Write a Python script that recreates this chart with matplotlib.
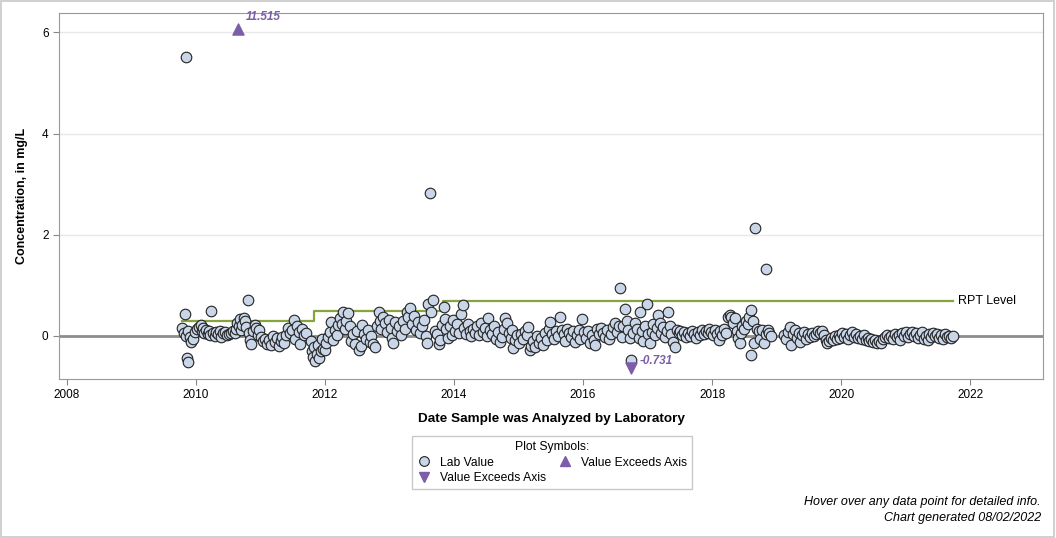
import matplotlib
matplotlib.use("Agg")
import matplotlib.pyplot as plt
from matplotlib.lines import Line2D
from matplotlib.patches import Rectangle

plt.rcParams['font.family'] = ['Liberation Sans', 'DejaVu Sans']

# decimal year the sample was analyzed, and lab value (mg/L)
sample_year = [
    2009.78, 2009.81, 2009.83, 2009.84, 2009.85, 2009.86, 2009.87, 2009.88, 2009.90, 2009.93, 2009.96, 2009.99,
    2010.02, 2010.05, 2010.07, 2010.09, 2010.11, 2010.13, 2010.15, 2010.18, 2010.20, 2010.22, 2010.24, 2010.26,
    2010.29, 2010.31, 2010.34, 2010.37, 2010.39, 2010.42, 2010.45, 2010.48, 2010.51, 2010.54,
    2010.57, 2010.60, 2010.62, 2010.64, 2010.66, 2010.68, 2010.70, 2010.72, 2010.74, 2010.76, 2010.78, 2010.80,
    2010.82, 2010.84, 2010.86, 2010.88,
    2010.91, 2010.93, 2010.96, 2010.98, 2011.01, 2011.04, 2011.07, 2011.10, 2011.13, 2011.16, 2011.19, 2011.22,
    2011.25, 2011.28, 2011.31, 2011.34, 2011.37, 2011.40,
    2011.43, 2011.46, 2011.49, 2011.52, 2011.54, 2011.56, 2011.59, 2011.61, 2011.64, 2011.67, 2011.70,
    2011.78, 2011.80, 2011.81, 2011.83, 2011.85, 2011.87, 2011.89, 2011.91, 2011.93, 2011.95, 2011.97, 2012.00,
    2012.02,
    2012.05, 2012.08, 2012.10, 2012.12, 2012.15, 2012.18, 2012.20, 2012.23, 2012.26, 2012.28, 2012.31, 2012.33,
    2012.36, 2012.39, 2012.41, 2012.44,
    2012.47, 2012.49, 2012.52, 2012.55, 2012.57, 2012.60, 2012.63, 2012.66, 2012.69, 2012.72, 2012.75, 2012.77,
    2012.80,
    2012.83, 2012.85, 2012.87, 2012.90, 2012.93, 2012.96, 2012.99, 2013.02, 2013.04, 2013.06, 2013.09, 2013.12,
    2013.15, 2013.18,
    2013.21, 2013.24, 2013.27, 2013.29, 2013.32, 2013.35, 2013.38, 2013.41, 2013.44, 2013.47, 2013.50, 2013.53,
    2013.56, 2013.58, 2013.60, 2013.63, 2013.65, 2013.68, 2013.70, 2013.73, 2013.76, 2013.78, 2013.81, 2013.84,
    2013.86, 2013.88, 2013.91, 2013.94, 2013.97, 2013.99,
    2014.02, 2014.05, 2014.08, 2014.11, 2014.14, 2014.16, 2014.18, 2014.21, 2014.24, 2014.27, 2014.30, 2014.33,
    2014.36, 2014.39, 2014.42,
    2014.45, 2014.48, 2014.51, 2014.53, 2014.56, 2014.59, 2014.62, 2014.65, 2014.68, 2014.71, 2014.74, 2014.77,
    2014.79, 2014.82, 2014.85, 2014.88, 2014.90, 2014.92, 2014.95, 2014.98,
    2015.01, 2015.04, 2015.07, 2015.10, 2015.13, 2015.15, 2015.18, 2015.20, 2015.23, 2015.26, 2015.29, 2015.32,
    2015.35, 2015.38, 2015.41, 2015.44, 2015.47, 2015.49,
    2015.52, 2015.55, 2015.58, 2015.61, 2015.64, 2015.67, 2015.70, 2015.72, 2015.75, 2015.78, 2015.81, 2015.84,
    2015.87, 2015.90, 2015.93, 2015.96, 2015.99, 2016.02,
    2016.05, 2016.08, 2016.11, 2016.14, 2016.17, 2016.19, 2016.22, 2016.25, 2016.28, 2016.31, 2016.34, 2016.37,
    2016.40, 2016.43, 2016.46, 2016.49, 2016.52, 2016.55, 2016.57, 2016.60, 2016.62, 2016.65, 2016.68, 2016.70,
    2016.73, 2016.75,
    2016.78, 2016.81, 2016.84, 2016.86, 2016.88, 2016.91, 2016.93, 2016.96, 2016.99, 2017.01, 2017.04, 2017.07,
    2017.09, 2017.12, 2017.14, 2017.16, 2017.19, 2017.21, 2017.24, 2017.27, 2017.30, 2017.32, 2017.35, 2017.37,
    2017.40, 2017.42, 2017.45,
    2017.48, 2017.51, 2017.54, 2017.57, 2017.60, 2017.63, 2017.66, 2017.69, 2017.72, 2017.75, 2017.78, 2017.81,
    2017.84, 2017.87, 2017.90, 2017.93, 2017.96, 2017.99, 2018.02, 2018.05, 2018.08, 2018.11, 2018.13,
    2018.16, 2018.19, 2018.22, 2018.25, 2018.28, 2018.30, 2018.33, 2018.35, 2018.38, 2018.40, 2018.43, 2018.45,
    2018.47, 2018.50, 2018.52, 2018.55, 2018.58, 2018.60, 2018.61, 2018.63, 2018.65, 2018.67, 2018.69, 2018.72,
    2018.75, 2018.78, 2018.80, 2018.83, 2018.84, 2018.86, 2018.89, 2018.91,
    2019.12, 2019.15, 2019.18, 2019.21, 2019.23, 2019.25, 2019.28, 2019.31, 2019.34, 2019.37, 2019.40, 2019.43,
    2019.46, 2019.49, 2019.52, 2019.55, 2019.58, 2019.61, 2019.64, 2019.67, 2019.70, 2019.73, 2019.76, 2019.78,
    2019.81, 2019.84, 2019.87, 2019.90, 2019.93, 2019.96, 2019.99,
    2020.02, 2020.05, 2020.08, 2020.11, 2020.14, 2020.17, 2020.20, 2020.23, 2020.26, 2020.29, 2020.32, 2020.35,
    2020.38, 2020.41, 2020.44, 2020.47, 2020.50, 2020.53, 2020.56, 2020.59, 2020.62, 2020.65, 2020.68, 2020.71,
    2020.74, 2020.77, 2020.80, 2020.83, 2020.86, 2020.89, 2020.92, 2020.95, 2020.98,
    2021.01, 2021.04, 2021.07, 2021.10, 2021.13, 2021.16, 2021.19, 2021.22, 2021.25, 2021.28, 2021.31, 2021.34,
    2021.37, 2021.40, 2021.43, 2021.46, 2021.49, 2021.52, 2021.55, 2021.58, 2021.61, 2021.64, 2021.67, 2021.70,
    2021.74,
]

lab_value = [
    0.15, 0.05, 0.43, 5.51, 0.00, -0.44, 0.09, -0.51, -0.01, -0.11, -0.06, 0.08,
    0.14, 0.18, 0.22, 0.10, 0.16, 0.06, 0.12, 0.04, 0.09, 0.02, 0.50, 0.06,
    0.00, 0.08, 0.03, 0.10, -0.02, 0.05, 0.08, 0.02, 0.04, 0.06,
    0.10, 0.05, 0.14, 0.26, 0.20, 0.33, 0.12, 0.22, 0.36, 0.30, 0.18, 0.71,
    0.05, -0.08, -0.16, 0.10,
    0.22, 0.16, 0.02, 0.12, -0.02, -0.10, -0.06, -0.16, -0.08, -0.18, 0.00, -0.12,
    -0.04, -0.20, -0.10, -0.02, -0.14, 0.02,
    0.16, 0.06, 0.12, 0.32, -0.06, 0.20, 0.08, -0.16, 0.14, 0.02, 0.06,
    -0.10, -0.30, -0.42, -0.22, -0.50, -0.36, -0.18, -0.44, -0.30, -0.06, -0.26, -0.28,
    -0.14,
    -0.02, 0.08, 0.28, -0.08, 0.12, 0.02, 0.22, 0.36, 0.24, 0.48, 0.14, 0.30,
    0.45, 0.20, -0.10, 0.04,
    -0.16, 0.10, -0.28, -0.20, 0.22, 0.04, -0.06, 0.12, -0.12, 0.00, -0.16, -0.21,
    0.20,
    0.48, 0.30, 0.14, 0.38, 0.26, 0.08, 0.32, 0.16, -0.04, -0.14, 0.28, 0.10,
    0.20, 0.02,
    0.30, 0.14, 0.48, 0.38, 0.55, 0.24, 0.40, 0.12, 0.28, 0.06, 0.20, 0.32,
    0.00, -0.14, 0.64, 2.83, 0.48, 0.71, 0.10, 0.04, -0.16, -0.08, 0.22, 0.58,
    0.34, 0.14, -0.04, 0.20, 0.02, 0.32,
    0.10, 0.24, 0.06, 0.44, 0.61, 0.16, 0.04, 0.24, 0.10, 0.00, 0.14, 0.06,
    0.20, 0.02, 0.26,
    0.08, 0.16, 0.00, 0.36, 0.12, 0.04, 0.20, -0.06, 0.08, -0.11, -0.02, 0.14,
    0.36, 0.26, 0.06, -0.04, 0.12, -0.24, -0.08, 0.02,
    -0.14, 0.04, -0.06, 0.10, 0.02, 0.18, -0.28, -0.20, -0.10, -0.22, 0.00, -0.14,
    -0.04, -0.18, 0.06, -0.08, 0.14, 0.28,
    0.04, -0.06, 0.10, 0.00, 0.38, 0.12, 0.04, -0.10, 0.14, 0.06, -0.02, 0.10,
    -0.12, 0.02, 0.12, -0.06, 0.33, 0.08,
    -0.04, 0.10, -0.14, 0.02, -0.08, -0.18, 0.14, 0.04, 0.16, 0.06, -0.02, 0.12,
    -0.06, 0.04, 0.18, 0.26, 0.08, 0.20, 0.95, -0.02, 0.20, 0.53, 0.30, 0.12,
    -0.04, -0.47,
    0.06, 0.26, 0.14, -0.04, 0.48, 0.10, -0.10, 0.20, 0.63, 0.04, -0.14, 0.08,
    0.24, 0.02, 0.16, 0.41, 0.26, 0.06, 0.18, -0.02, 0.10, 0.48, 0.20, 0.04,
    -0.11, -0.22, 0.12,
    0.06, 0.10, 0.02, 0.08, -0.02, 0.06, 0.00, 0.10, 0.04, -0.04, 0.08, 0.02,
    0.12, 0.04, 0.10, 0.06, 0.14, 0.08, 0.02, 0.12, 0.04, -0.08, 0.10,
    0.02, 0.14, 0.06, 0.38, 0.41, 0.38, 0.26, 0.36, 0.10, -0.04, -0.14, 0.06,
    0.20, 0.14, 0.30, 0.24, 0.38, -0.38, 0.51, 0.30, -0.14, 2.13, 0.14, 0.10,
    -0.06, 0.12, -0.14, 0.04, 1.33, 0.12, 0.06, 0.00,
    0.02, -0.06, 0.08, 0.18, -0.18, 0.04, 0.12, -0.04, 0.06, -0.12, 0.02, 0.08,
    -0.06, 0.04, -0.02, 0.06, 0.00, 0.04, 0.10, 0.06, 0.09, 0.02, -0.08, -0.14,
    -0.10, -0.04, -0.08, 0.00, -0.06, 0.02, -0.04,
    0.06, -0.02, 0.04, -0.06, 0.02, 0.08, -0.02, 0.04, -0.04, 0.00, -0.06, 0.02,
    -0.08, -0.04, -0.10, -0.06, -0.12, -0.08, -0.14, -0.10, -0.14, -0.06, -0.02, 0.02,
    -0.04, 0.00, -0.06, 0.04, -0.02, 0.02, -0.08, 0.06, 0.00,
    0.08, -0.02, 0.04, 0.08, 0.00, 0.06, -0.04, 0.02, 0.08, -0.06, 0.00, -0.08,
    0.04, -0.02, 0.06, 0.00, 0.04, -0.04, 0.02, -0.06, 0.04, -0.02, 0.00, -0.04,
    0.00,
]

# values outside the axis range, drawn as triangles at the axis edge
exceed_year = [2010.65, 2016.75]
exceed_value = [11.515, -0.731]

# reporting level steps
rpt_year = [2009.78, 2011.83, 2013.83, 2021.74]
rpt_level = [0.3, 0.5, 0.7, 0.7]

y_min, y_max = -0.85, 6.39
cap_hi, cap_lo = 6.06, -0.63

purple = '#7b5ea7'
fill = '#c9d6e8'

fig = plt.figure(figsize=(10.56, 5.38), dpi=100)
fig.patches.append(Rectangle((0.0005, 0.001), 0.998, 0.997, transform=fig.transFigure,
                             fill=False, edgecolor='#c8c8c8', linewidth=1.2))
ax = fig.add_axes([59 / 1056, 1 - 379 / 538, (1043 - 59) / 1056, (379 - 12.7) / 538])

for gy in [2, 4, 6]:
    ax.axhline(gy, color='#e8e8e8', linewidth=1, zorder=0)
ax.axhline(0, color='#8c8c8c', linewidth=2, zorder=1)

ax.step(rpt_year, rpt_level, where='post', color='#86a33e', linewidth=1.6, zorder=2)
ax.text(rpt_year[-1] + 0.07, rpt_level[-1], 'RPT Level', fontsize=9, va='center', ha='left')

ax.scatter(sample_year, lab_value, s=58, facecolor=fill, edgecolor='#222222',
           linewidth=0.8, zorder=3)

# exceeding values
for yr, val in zip(exceed_year, exceed_value):
    if val > y_max:
        ax.scatter([yr], [cap_hi], marker='^', s=64, color=purple, zorder=4)
        ax.annotate(f'{val:.3f}', (yr, cap_hi), xytext=(6, 7), textcoords='offset points',
                    color=purple, fontsize=8.5, fontweight='bold', fontstyle='italic')
    else:
        ax.scatter([yr], [cap_lo], marker='v', s=64, color=purple, zorder=4)
        ax.annotate(f'{val:.3f}', (yr, cap_lo), xytext=(6, 3), textcoords='offset points',
                    color=purple, fontsize=8.5, fontweight='bold', fontstyle='italic')

ax.set_xlim(2007.876, 2023.13)
ax.set_ylim(y_min, y_max)
ax.set_xticks(range(2008, 2023, 2))
ax.set_yticks([0, 2, 4, 6])
ax.tick_params(labelsize=8.5, length=4, color='#888888')
for side in ax.spines.values():
    side.set_color('#999999')
ax.set_xlabel('Date Sample was Analyzed by Laboratory', fontsize=9.7, fontweight='bold', labelpad=8)
ax.set_ylabel('Concentration, in mg/L', fontsize=9, fontweight='bold', labelpad=10)

handles = [
    Line2D([0], [0], marker='o', linestyle='none', markersize=7, markerfacecolor=fill,
           markeredgecolor='#222222', markeredgewidth=0.8, label='Lab Value'),
    Line2D([0], [0], marker='v', linestyle='none', markersize=7, color=purple,
           label='Value Exceeds Axis'),
    Line2D([0], [0], marker='^', linestyle='none', markersize=7, color=purple,
           label='Value Exceeds Axis'),
]
leg = fig.legend(handles=handles, title='Plot Symbols:', ncol=2, loc='center',
                 bbox_to_anchor=(552 / 1056, 1 - 462.5 / 538), fontsize=8.7, title_fontsize=8.7,
                 fancybox=False, edgecolor='#bbbbbb', handletextpad=0.7, columnspacing=1.0,
                 labelspacing=0.3, borderpad=0.4, borderaxespad=0, handlelength=1.2)
leg.get_frame().set_linewidth(1)

fig.text(1041 / 1056, 1 - 502 / 538, 'Hover over any data point for detailed info.',
         ha='right', va='center', fontsize=9, fontstyle='italic')
fig.text(1041 / 1056, 1 - 518 / 538, 'Chart generated 08/02/2022',
         ha='right', va='center', fontsize=9, fontstyle='italic')

fig.savefig('out.png', dpi=100)
